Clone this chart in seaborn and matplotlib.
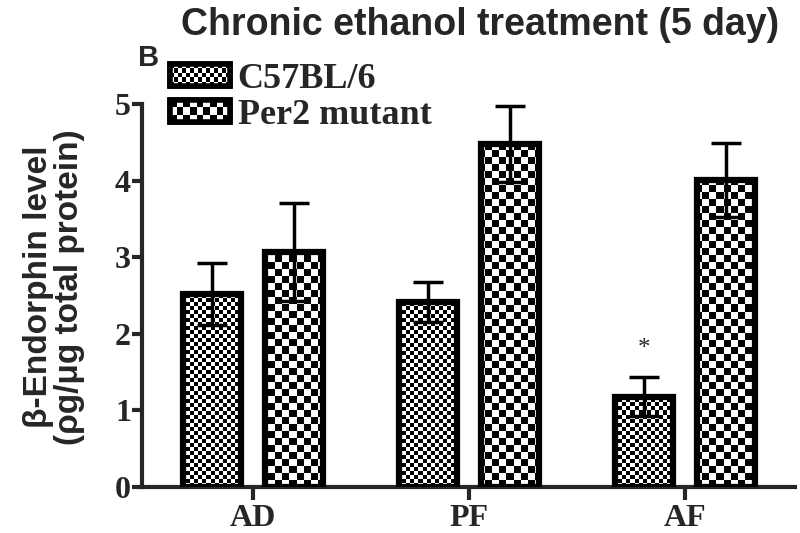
import numpy as np
import pandas as pd
import matplotlib
matplotlib.use("Agg")
import matplotlib.pyplot as plt
import seaborn as sns
from matplotlib.patches import Patch, Rectangle

# data
groups = ["AD", "PF", "AF"]
strains = ["C57BL/6", "Per2 mutant"]
c57_mean = [2.52, 2.42, 1.18]
c57_sem = [0.40, 0.26, 0.25]
per2_mean = [3.07, 4.48, 4.01]
per2_sem = [0.64, 0.50, 0.48]
yticks = [0, 1, 2, 3, 4, 5]

df = pd.DataFrame({
    "group": groups * 2,
    "strain": [strains[0]] * 3 + [strains[1]] * 3,
    "level": c57_mean + per2_mean,
    "sem": c57_sem + per2_sem,
})

sns.set_style("white")
SANS = "Liberation Sans"
SERIF = "Liberation Serif"

fig = plt.figure(figsize=(8, 5.33), dpi=100)
ax = fig.add_axes([142 / 800, 46 / 533, 653 / 800, 383 / 533])

sns.barplot(data=df, x="group", y="level", hue="strain", order=groups,
            hue_order=strains, palette=["white", "white"], width=0.76, gap=0.29,
            errorbar=None, legend=False, ax=ax)

ax.set_xlim(-0.514, 2.51)
ax.set_ylim(0, 5)

#checkerboard cell size in pixels for each strain
cells = {strains[0]: 4, strains[1]: 7}


def checker(ny, nx):
    return (np.add.outer(np.arange(ny), np.arange(nx)) % 2).astype(float)


fig.canvas.draw()
ax_bb = ax.get_window_extent()
bars = sorted(ax.patches, key=lambda p: p.get_x())
for i, p in enumerate(bars):
    strain = strains[i % 2]
    cell = cells[strain]
    nx = int(np.ceil(ax_bb.width / cell)) + 1
    ny = int(np.ceil(ax_bb.height / cell)) + 1
    im = ax.imshow(checker(ny, nx), cmap="gray", vmin=0, vmax=1,
                   interpolation="nearest", aspect="auto",
                   extent=(0, nx * cell / ax_bb.width, 0, ny * cell / ax_bb.height),
                   transform=ax.transAxes, zorder=2)
    im.set_clip_path(p)
    p.set_facecolor("none")
    p.set_edgecolor("black")
    p.set_linewidth(4.5)
    p.set_zorder(3)
ax.set_xlim(-0.514, 2.51)
ax.set_ylim(0, 5)

#error bars
for i, p in enumerate(bars):
    g = i // 2
    s = i % 2
    mean = c57_mean[g] if s == 0 else per2_mean[g]
    err = c57_sem[g] if s == 0 else per2_sem[g]
    ax.errorbar(p.get_x() + p.get_width() / 2, mean, yerr=err, fmt="none",
                ecolor="black", elinewidth=2.5, capsize=11, capthick=2.5, zorder=4)

#significance star on AF C57BL/6
af_bar = bars[4]
ax.text(af_bar.get_x() + af_bar.get_width() / 2, 1.8, "*", ha="center",
        va="center", fontsize=18, family=SERIF)

sns.despine(ax=ax)
ax.spines["left"].set_linewidth(3)
ax.spines["bottom"].set_linewidth(3)
ax.spines["left"].set_bounds(0, 5)
ax.set_yticks(yticks)
ax.tick_params(axis="y", length=7, width=3, direction="out", left=True, pad=1)
ax.tick_params(axis="x", length=9, width=3, direction="out", bottom=True, pad=3)
for lab in ax.get_yticklabels() + ax.get_xticklabels():
    lab.set_family(SERIF)
    lab.set_fontweight("bold")
    lab.set_fontsize(23)
ax.set_xlabel("")
ax.set_ylabel("")

fig.text(0.067, 1 - 287 / 533, "\u03b2-Endorphin level\n(\u03c1g/\u03bcg total protein)",
         rotation=90, ha="center", va="center", multialignment="center",
         family=SANS, fontweight="bold", fontsize=24, linespacing=1.0)
fig.text(0.6, 1 - 35 / 533, "Chronic ethanol treatment (5 day)", ha="center",
         va="baseline", family=SANS, fontweight="bold", fontsize=27)
fig.text(0.186, 1 - 66 / 533, "B", ha="center", va="baseline", family=SANS,
         fontweight="bold", fontsize=21)

#legend with checker handles
handles = [Patch(facecolor="white", edgecolor="black", linewidth=4) for _ in strains]
leg = ax.legend(handles, strains, loc="upper left", bbox_to_anchor=(0.043, 1.107),
                frameon=False, borderaxespad=0, borderpad=0, handlelength=1.65,
                handleheight=0.55, handletextpad=0.22, labelspacing=0.08,
                prop={"family": SERIF, "weight": "bold", "size": 26})
fig.canvas.draw()
inv = ax.transAxes.inverted()
for h, strain in zip(leg.legend_handles, strains):
    bb = h.get_window_extent()
    cell = cells[strain]
    nx = int(round(bb.width / cell))
    ny = int(round(bb.height / cell))
    (x0, y0), (x1, y1) = inv.transform([(bb.x0, bb.y0), (bb.x1, bb.y1)])
    ax.imshow(checker(ny, nx), cmap="gray", vmin=0, vmax=1, interpolation="nearest",
              aspect="auto", extent=(x0, x1, y0, y1), transform=ax.transAxes,
              zorder=6, clip_on=False)
    ax.add_patch(Rectangle((x0, y0), x1 - x0, y1 - y0, transform=ax.transAxes,
                           facecolor="none", edgecolor="black", linewidth=4,
                           zorder=7, clip_on=False))
ax.set_xlim(-0.514, 2.51)
ax.set_ylim(0, 5)

fig.savefig("out.png", dpi=100)
